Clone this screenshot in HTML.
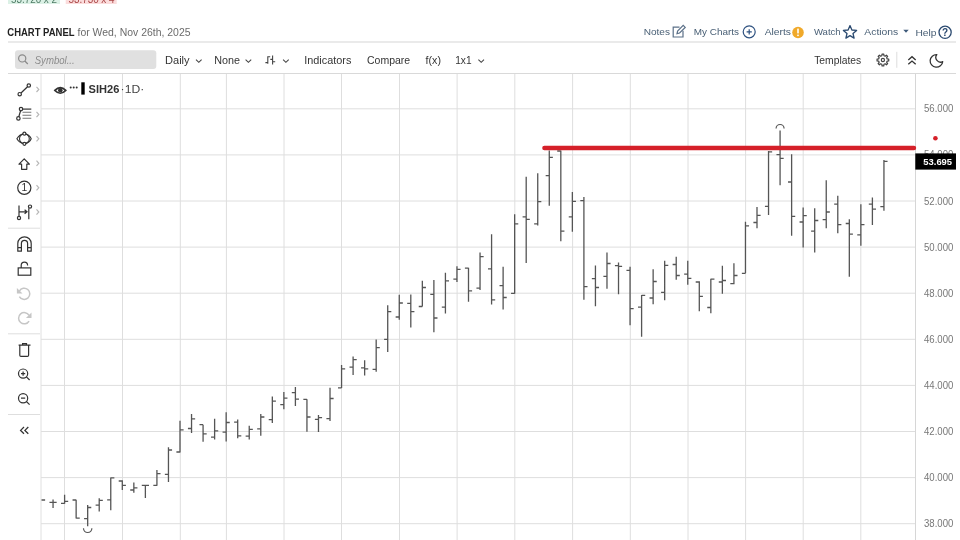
<!DOCTYPE html>
<html><head><meta charset="utf-8"><title>Chart Panel</title><style>
html,body{margin:0;padding:0;background:#fff}
body{width:960px;height:540px;overflow:hidden;position:relative}
svg{position:absolute;left:0;top:0;display:block}
</style></head><body>
<svg width="960" height="540" viewBox="0 0 960 540" font-family="Liberation Sans, Arial, sans-serif"><rect x="8" y="-6" width="52" height="10" fill="#dcf1e6"/>
<rect x="65.7" y="-6" width="51" height="10" fill="#fbdcdc"/>
<text x="11" y="2.6" font-size="10.5" fill="#4d7a64" textLength="46" lengthAdjust="spacingAndGlyphs">53.720 x 2</text>
<text x="68.5" y="2.6" font-size="10.5" fill="#a84444" textLength="46" lengthAdjust="spacingAndGlyphs">53.730 x 4</text>
<text x="7.3" y="36.2" font-size="10.8" fill="#222" textLength="67.2" lengthAdjust="spacingAndGlyphs" font-weight="bold">CHART PANEL</text>
<text x="77.5" y="36.2" font-size="10.8" fill="#6b6b6b" textLength="113" lengthAdjust="spacingAndGlyphs">for Wed, Nov 26th, 2025</text>
<rect x="8" y="41.5" width="948" height="1" fill="#d6d6d6"/>
<text x="643.7" y="35.2" font-size="9.8" fill="#4a6076" textLength="26.3" lengthAdjust="spacingAndGlyphs">Notes</text>
<text x="693.7" y="35.2" font-size="9.8" fill="#4a6076" textLength="45.3" lengthAdjust="spacingAndGlyphs">My Charts</text>
<text x="764.7" y="35.4" font-size="9.8" fill="#4a6076" textLength="26.3" lengthAdjust="spacingAndGlyphs">Alerts</text>
<text x="813.9" y="35.3" font-size="9.8" fill="#4a6076" textLength="26.8" lengthAdjust="spacingAndGlyphs">Watch</text>
<text x="864.3" y="35.4" font-size="9.8" fill="#4a6076" textLength="34" lengthAdjust="spacingAndGlyphs">Actions</text>
<text x="915.5" y="36.3" font-size="9.8" fill="#4a6076" textLength="21" lengthAdjust="spacingAndGlyphs">Help</text>
<g fill="none" stroke="#5b7088" stroke-width="1.2"><path d="M679.5 27.2H673.2V37H683V30.8"/><path d="M677 33.6l0.6-2.6l5.6-5.6l2 2l-5.6 5.6z"/></g>
<g fill="none" stroke="#2f5280" stroke-width="1.2"><circle cx="749.2" cy="31.8" r="6"/><path d="M749.2 29.2v5.2M746.6 31.8h5.2"/></g>
<circle cx="798" cy="32.5" r="5.8" fill="#f0a92a"/><rect x="797.2" y="28.6" width="1.6" height="4.8" fill="#fff"/><rect x="797.2" y="34.6" width="1.6" height="1.5" fill="#fff"/>
<path d="M850 25.6l1.9 4.4 4.7 0.4-3.6 3.1 1.1 4.6-4.1-2.5-4.1 2.5 1.1-4.6-3.6-3.1 4.7-0.4z" fill="none" stroke="#2b4a70" stroke-width="1.3" stroke-linejoin="round"/>
<path d="M903.3 29.8h5.4l-2.7 3z" fill="#3e5a7a"/>
<g fill="none" stroke="#2b4a70" stroke-width="1.3"><circle cx="945.1" cy="32.3" r="6.1"/></g>
<text x="945.1" y="35.7" font-size="10" fill="#2b4a70" font-weight="bold" text-anchor="middle">?</text>
<rect x="15" y="50.3" width="141.3" height="18.7" rx="3" fill="#e0e0e0"/>
<g fill="none" stroke="#8a8a8a" stroke-width="1.2"><circle cx="22.2" cy="58.4" r="3.6"/><path d="M24.8 61l3 3"/></g>
<text x="34.7" y="63.6" font-size="10" fill="#8c8c8c" textLength="40" lengthAdjust="spacingAndGlyphs" font-style="italic">Symbol...</text>
<text x="165" y="64" font-size="10.3" fill="#353535" textLength="24.6" lengthAdjust="spacingAndGlyphs">Daily</text>
<text x="214.2" y="64" font-size="10.3" fill="#353535" textLength="25.8" lengthAdjust="spacingAndGlyphs">None</text>
<text x="304.2" y="64" font-size="10.3" fill="#353535" textLength="47.2" lengthAdjust="spacingAndGlyphs">Indicators</text>
<text x="367" y="64" font-size="10.3" fill="#353535" textLength="43.2" lengthAdjust="spacingAndGlyphs">Compare</text>
<text x="425.6" y="64" font-size="10.3" fill="#353535" textLength="15.4" lengthAdjust="spacingAndGlyphs">f(x)</text>
<text x="455.2" y="64" font-size="10.3" fill="#353535" textLength="16.4" lengthAdjust="spacingAndGlyphs">1x1</text>
<text x="814.2" y="64" font-size="10.3" fill="#353535" textLength="47" lengthAdjust="spacingAndGlyphs">Templates</text>
<path d="M196.0 59.7l2.8 2.6l2.8-2.6" fill="none" stroke="#444" stroke-width="1.1"/>
<path d="M245.6 59.7l2.8 2.6l2.8-2.6" fill="none" stroke="#444" stroke-width="1.1"/>
<path d="M283.1 59.7l2.8 2.6l2.8-2.6" fill="none" stroke="#444" stroke-width="1.1"/>
<path d="M478.4 59.7l2.8 2.6l2.8-2.6" fill="none" stroke="#444" stroke-width="1.1"/>
<g stroke="#444" stroke-width="1.1" fill="none"><path d="M267.8 56.3V63.7M267.3 56.8H270.2M265.4 62.6H268.3M272.6 55.5V64.4M270.3 59.4H272.6M272.6 61.7H275.2"/></g>
<g fill="none" stroke="#444" stroke-width="1.2" stroke-linejoin="round"><circle cx="882.9" cy="60.0" r="1.6"/><path d="M887.17 58.94L888.73 59.12L888.73 60.88L887.17 61.06L886.67 62.27L887.65 63.51L886.41 64.75L885.17 63.77L883.96 64.27L883.78 65.83L882.02 65.83L881.84 64.27L880.63 63.77L879.39 64.75L878.15 63.51L879.13 62.27L878.63 61.06L877.07 60.88L877.07 59.12L878.63 58.94L879.13 57.73L878.15 56.49L879.39 55.25L880.63 56.23L881.84 55.73L882.02 54.17L883.78 54.17L883.96 55.73L885.17 56.23L886.41 55.25L887.65 56.49L886.67 57.73Z"/></g>
<rect x="896.3" y="51.8" width="1" height="16" fill="#ddd"/>
<g fill="none" stroke="#333" stroke-width="1.3"><path d="M908.3 60l3.7-3.3 3.7 3.3M908.3 64.3l3.7-3.3 3.7 3.3"/></g>
<path d="M936.8 54.6A6.3 6.3 0 1 0 942.7 61.6A4.7 4.7 0 0 1 936.8 54.6Z" fill="none" stroke="#333" stroke-width="1.3" stroke-linejoin="round"/>
<rect x="8" y="73" width="948" height="1" fill="#d9d9d9"/>
<g stroke="#dedede" stroke-width="1"><line x1="64.5" y1="74" x2="64.5" y2="540"/><line x1="122.5" y1="74" x2="122.5" y2="540"/><line x1="180.3" y1="74" x2="180.3" y2="540"/><line x1="226.4" y1="74" x2="226.4" y2="540"/><line x1="284" y1="74" x2="284" y2="540"/><line x1="341.5" y1="74" x2="341.5" y2="540"/><line x1="399.5" y1="74" x2="399.5" y2="540"/><line x1="457.1" y1="74" x2="457.1" y2="540"/><line x1="514.8" y1="74" x2="514.8" y2="540"/><line x1="572.6" y1="74" x2="572.6" y2="540"/><line x1="630.3" y1="74" x2="630.3" y2="540"/><line x1="688" y1="74" x2="688" y2="540"/><line x1="745.6" y1="74" x2="745.6" y2="540"/><line x1="803.2" y1="74" x2="803.2" y2="540"/><line x1="860.8" y1="74" x2="860.8" y2="540"/><line x1="41" y1="108.80" x2="915" y2="108.80"/><line x1="41" y1="154.90" x2="915" y2="154.90"/><line x1="41" y1="201.00" x2="915" y2="201.00"/><line x1="41" y1="247.10" x2="915" y2="247.10"/><line x1="41" y1="293.20" x2="915" y2="293.20"/><line x1="41" y1="339.30" x2="915" y2="339.30"/><line x1="41" y1="385.40" x2="915" y2="385.40"/><line x1="41" y1="431.50" x2="915" y2="431.50"/><line x1="41" y1="477.60" x2="915" y2="477.60"/><line x1="41" y1="523.70" x2="915" y2="523.70"/></g>
<line x1="915.5" y1="74" x2="915.5" y2="540" stroke="#d6d6d6" stroke-width="1"/>
<line x1="41" y1="74" x2="41" y2="540" stroke="#e0e0e0" stroke-width="1"/>
<path d="M41.52 500.0H45.12M53.06 499.6V508.0M49.46 502.3H53.06M53.06 502.3H56.66M64.60 494.7V503.7M61.00 503.4H64.60M64.60 501.4H68.20M76.14 499.8V518.6M72.54 500.0H76.14M76.14 518.2H79.74M87.68 505.0V526.3M84.08 518.6H87.68M87.68 507.5H91.28M99.22 498.3V511.5M95.62 505.1H99.22M99.22 500.3H102.82M110.76 477.5V510.2M107.16 499.8H110.76M110.76 477.8H114.36M122.30 480.2V489.9M118.70 481.0H122.30M122.30 485.4H125.90M133.84 482.6V492.8M130.24 490.0H133.84M133.84 487.8H137.44M145.38 485.0V497.9M141.78 485.4H145.38M145.38 485.4H148.98M156.92 470.1V485.7M153.32 485.4H156.92M156.92 473.6H160.52M168.46 447.2V482.0M164.86 474.3H168.46M168.46 450.0H172.06M180.00 420.8V452.5M176.40 452.0H180.00M180.00 429.9H183.60M191.54 413.9V433.0M187.94 428.5H191.54M191.54 418.8H195.14M203.08 424.7V441.7M199.48 424.7H203.08M203.08 433.8H206.68M214.62 418.8V439.6M211.02 437.2H214.62M214.62 430.8H218.22M226.16 412.2V441.4M222.56 432.2H226.16M226.16 422.5H229.76M237.70 419.4V438.2M234.10 422.2H237.70M237.70 435.8H241.30M249.24 425.7V439.6M245.64 436.1H249.24M249.24 429.4H252.84M260.78 413.9V435.8M257.18 428.9H260.78M260.78 417.0H264.38M272.32 396.4V423.0M268.72 419.7H272.32M272.32 401.2H275.92M283.86 392.0V409.2M280.26 404.7H283.86M283.86 398.2H287.46M295.40 387.0V406.1M291.80 392.6H295.40M295.40 399.2H299.00M306.94 399.2V431.8M303.34 399.4H306.94M306.94 417.0H310.54M318.48 415.1V432.1M314.88 419.3H318.48M318.48 417.6H322.08M330.02 387.8V421.1M326.42 418.6H330.02M330.02 398.5H333.62M341.56 365.1V388.0M337.96 387.8H341.56M341.56 368.9H345.16M353.10 356.4V374.9M349.50 367.2H353.10M353.10 359.6H356.70M364.64 360.3V375.6M361.04 367.9H364.64M364.64 368.9H368.24M376.18 339.4V371.7M372.58 369.3H376.18M376.18 347.7H379.78M387.72 305.2V352.0M384.12 339.4H387.72M387.72 311.6H391.32M399.26 294.8V319.8M395.66 317.0H399.26M399.26 303.0H402.86M410.80 294.6V327.5M407.20 303.3H410.80M410.80 311.6H414.40M422.34 280.8V306.5M418.74 306.5H422.34M422.34 287.5H425.94M433.88 280.1V332.2M430.28 294.4H433.88M433.88 318.0H437.48M445.42 272.8V313.5M441.82 307.2H445.42M445.42 280.8H449.02M456.96 266.2V282.0M453.36 279.2H456.96M456.96 269.4H460.56M468.50 267.7V301.7M464.90 268.1H468.50M468.50 290.9H472.10M480.04 252.6V289.9M476.44 288.1H480.04M480.04 256.6H483.64M491.58 234.3V304.5M487.98 268.9H491.58M491.58 299.8H495.18M503.12 266.7V309.5M499.52 285.7H503.12M503.12 297.5H506.72M514.66 214.2V293.7M511.06 293.3H514.66M514.66 223.9H518.26M526.20 176.7V263.0M522.60 216.9H526.20M526.20 219.4H529.80M537.74 173.2V225.6M534.14 223.8H537.74M537.74 201.6H541.34M549.28 150.6V205.8M545.68 175.6H549.28M549.28 157.4H552.88M560.82 150.6V241.2M557.22 151.0H560.82M560.82 231.2H564.42M572.36 192.0V231.7M568.76 216.9H572.36M572.36 201.4H575.96M583.90 197.1V299.7M580.30 200.7H583.90M583.90 286.7H587.50M595.44 265.4V306.3M591.84 278.7H595.44M595.44 287.5H599.04M606.98 252.6V288.7M603.38 276.3H606.98M606.98 263.5H610.58M618.52 262.6V294.2M614.92 265.6H618.52M618.52 266.4H622.12M630.06 266.7V325.3M626.46 270.3H630.06M630.06 308.7H633.66M641.60 295.0V336.7M638.00 307.2H641.60M641.60 295.3H645.20M653.14 269.2V304.2M649.54 298.0H653.14M653.14 281.5H656.74M664.68 260.8V300.3M661.08 292.3H664.68M664.68 265.3H668.28M676.22 256.7V279.7M672.62 264.5H676.22M676.22 275.5H679.82M687.76 260.8V284.7M684.16 274.2H687.76M687.76 278.3H691.36M699.30 281.3V311.3M695.70 282.0H699.30M699.30 296.3H702.90M710.84 278.7V313.3M707.24 307.5H710.84M710.84 279.2H714.44M722.38 265.8V293.7M718.78 282.0H722.38M722.38 280.5H725.98M733.92 263.3V284.2M730.32 283.7H733.92M733.92 275.5H737.52M745.46 221.7V273.3M741.86 273.3H745.46M745.46 225.8H749.06M757.00 207.0V228.3M753.40 222.5H757.00M757.00 215.3H760.60M768.54 151.1V215.0M764.94 206.3H768.54M768.54 151.9H772.14M780.08 130.6V185.3M776.48 154.7H780.08M780.08 158.3H783.68M791.62 154.2V235.7M788.02 182.0H791.62M791.62 216.3H795.22M803.16 207.5V247.6M799.56 222.0H803.16M803.16 215.7H806.76M814.70 208.3V252.5M811.10 231.2H814.70M814.70 220.5H818.30M826.24 180.3V228.3M822.64 219.7H826.24M826.24 212.0H829.84M837.78 195.8V233.2M834.18 204.2H837.78M837.78 224.7H841.38M849.32 219.2V276.8M845.72 223.5H849.32M849.32 234.1H852.92M860.86 204.2V245.8M857.26 234.8H860.86M860.86 224.7H864.46M872.40 197.5V225.0M868.80 204.2H872.40M872.40 209.2H876.00M883.94 160.0V210.8M880.34 206.7H883.94M883.94 161.3H887.54" stroke="#555" stroke-width="1.3" fill="none"/>
<path d="M83.48 528.3a4.2 4.2 0 0 0 8.4 0" stroke="#555" stroke-width="1.2" fill="none"/>
<path d="M776.08 128.5a4 4 0 0 1 8 0" stroke="#555" stroke-width="1.2" fill="none"/>
<line x1="544.4" y1="148" x2="914" y2="148" stroke="#d52029" stroke-width="4.4" stroke-linecap="round"/>
<text x="924" y="112.3" font-size="10.3" fill="#777" textLength="29.3" lengthAdjust="spacingAndGlyphs">56.000</text>
<text x="924" y="158.4" font-size="10.3" fill="#777" textLength="29.3" lengthAdjust="spacingAndGlyphs">54.000</text>
<text x="924" y="204.5" font-size="10.3" fill="#777" textLength="29.3" lengthAdjust="spacingAndGlyphs">52.000</text>
<text x="924" y="250.6" font-size="10.3" fill="#777" textLength="29.3" lengthAdjust="spacingAndGlyphs">50.000</text>
<text x="924" y="296.7" font-size="10.3" fill="#777" textLength="29.3" lengthAdjust="spacingAndGlyphs">48.000</text>
<text x="924" y="342.8" font-size="10.3" fill="#777" textLength="29.3" lengthAdjust="spacingAndGlyphs">46.000</text>
<text x="924" y="388.9" font-size="10.3" fill="#777" textLength="29.3" lengthAdjust="spacingAndGlyphs">44.000</text>
<text x="924" y="435.0" font-size="10.3" fill="#777" textLength="29.3" lengthAdjust="spacingAndGlyphs">42.000</text>
<text x="924" y="481.1" font-size="10.3" fill="#777" textLength="29.3" lengthAdjust="spacingAndGlyphs">40.000</text>
<text x="924" y="527.2" font-size="10.3" fill="#777" textLength="29.3" lengthAdjust="spacingAndGlyphs">38.000</text>
<circle cx="935.4" cy="138.3" r="2.3" fill="#d52029"/>
<rect x="915.3" y="153.4" width="40.7" height="16.2" fill="#000"/>
<text x="923.3" y="164.7" font-size="9.8" fill="#fff" textLength="28.8" lengthAdjust="spacingAndGlyphs" font-weight="bold">53.695</text>
<g><path d="M54.8 90.4q5.5-5.6 11 0q-5.5 5.6-11 0z" fill="none" stroke="#333" stroke-width="1.6"/><circle cx="60.3" cy="90.3" r="2.3" fill="#333"/></g>
<g fill="#333"><circle cx="70.7" cy="87.5" r="1"/><circle cx="73.7" cy="87.5" r="1"/><circle cx="76.7" cy="87.5" r="1"/></g>
<rect x="81.3" y="82.3" width="3.4" height="12.3" fill="#000"/>
<text x="88.5" y="93.3" font-size="10.8" fill="#333" textLength="30.8" lengthAdjust="spacingAndGlyphs" font-weight="bold">SIH26</text>
<text x="120.6" y="93.3" font-size="10.8" fill="#444" textLength="23.6" lengthAdjust="spacingAndGlyphs">·1D·</text>
<g fill="none" stroke="#333" stroke-width="1.2">
<path d="M21 93l6.5-6.2"/><circle cx="19.7" cy="94.2" r="1.7"/><circle cx="28.8" cy="85.5" r="1.7"/>
<path d="M20.6 110.8l-1.8 5.9"/><circle cx="21" cy="109.1" r="1.7"/><circle cx="18.4" cy="118.4" r="1.7"/><path d="M22.8 109.1h8.5"/>
</g>
<g stroke="#777" stroke-width="1.1"><path d="M22.5 112.3h8.8M22.5 115.3h8.8M22.5 118.3h8.8"/></g>
<g fill="none" stroke="#333" stroke-width="1.2">
<path d="M24.4 133.6Q19.2 134.6 16.9 138.7Q19.2 142.8 24.4 143.8Q29.6 142.8 31.2 138.7Q29.6 134.6 24.4 133.6Z" stroke-width="1.1"/><circle cx="24.4" cy="138.7" r="4.9" stroke-width="1.1"/><circle cx="24.4" cy="133.7" r="1.5" fill="#fff"/><circle cx="24.4" cy="143.8" r="1.5" fill="#fff"/>
<path d="M24.2 158.8L29.4 164.2H26.8V169.3H21.6V164.2H19Z" stroke-linejoin="round"/>
<circle cx="24.3" cy="187.8" r="6.6"/>
<path d="M19 205.5V216.3M19 211.8H27M24.6 209.8L27 211.8L24.6 213.8M28.8 208.2V219.3"/><circle cx="19" cy="218" r="1.6"/><circle cx="30" cy="206.6" r="1.6"/>
<path d="M17.8 251.2V243.5A6.7 6.7 0 0 1 31.2 243.5V251.2H27.6V243.5A3.1 3.1 0 0 0 21.4 243.5V251.2Z M17.8 247.6H21.4M27.6 247.6H31.2" stroke-linejoin="round"/>
<rect x="18.2" y="267.9" width="12.6" height="7.3"/><path d="M21.2 267.9V265.4A3.2 3.2 0 0 1 27.6 265.4"/>
<path d="M18.6 345.2H30.5M22.6 345.2V343.6H26.5V345.2M19.8 345.2V355.2Q19.8 356.4 21 356.4H27.4Q28.6 356.4 28.6 355.2V345.2"/>
<circle cx="23.1" cy="373.6" r="4.6"/><path d="M26.4 376.9L29.6 380M21 373.6H25.2M23.1 371.5V375.7"/>
<circle cx="23.1" cy="398.2" r="4.6"/><path d="M26.4 401.5L29.6 404.6M21 398.2H25.2"/>
<path d="M24 427L20.6 430.4L24 433.8M28.3 427L24.9 430.4L28.3 433.8" stroke-width="1.3"/>
</g>
<text x="24.4" y="191.3" font-size="10.2" fill="#333" text-anchor="middle">1</text>
<g fill="none" stroke="#c6c6c6" stroke-width="1.5"><path d="M19.35 291A5.6 5.6 0 1 1 19.35 296.6"/><path d="M29.05 315.4A5.6 5.6 0 1 0 29.05 321"/></g><g fill="#c6c6c6"><path d="M16.9 288V293.6H22.5Z"/><path d="M31.5 312.4V318H25.9Z"/></g>
<path d="M36.5 86.8l2.3 2.6l-2.3 2.6" fill="none" stroke="#b8b8b8" stroke-width="1.2"/>
<path d="M36.5 111.9l2.3 2.6l-2.3 2.6" fill="none" stroke="#b8b8b8" stroke-width="1.2"/>
<path d="M36.5 136.2l2.3 2.6l-2.3 2.6" fill="none" stroke="#b8b8b8" stroke-width="1.2"/>
<path d="M36.5 160.7l2.3 2.6l-2.3 2.6" fill="none" stroke="#b8b8b8" stroke-width="1.2"/>
<path d="M36.5 185.2l2.3 2.6l-2.3 2.6" fill="none" stroke="#b8b8b8" stroke-width="1.2"/>
<path d="M36.5 209.4l2.3 2.6l-2.3 2.6" fill="none" stroke="#b8b8b8" stroke-width="1.2"/>
<rect x="8" y="227.7" width="32" height="1" fill="#dedede"/>
<rect x="8" y="333.3" width="32" height="1" fill="#dedede"/>
<rect x="8" y="414.0" width="32" height="1" fill="#dedede"/></svg>
</body></html>
